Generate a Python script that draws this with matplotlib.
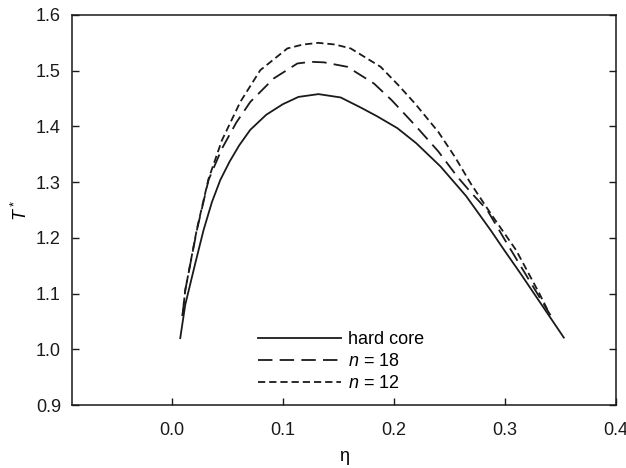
import matplotlib
matplotlib.use("Agg")
import matplotlib.pyplot as plt

plt.rcParams['font.family'] = ['Liberation Sans', 'DejaVu Sans']
plt.rcParams['mathtext.fontset'] = 'custom'
plt.rcParams['mathtext.it'] = 'Liberation Sans:italic'
plt.rcParams['mathtext.rm'] = 'Liberation Sans'

# hard core curve
eta_hc = [0.0075, 0.012, 0.021, 0.0285, 0.036, 0.0436, 0.052, 0.0606, 0.0706, 0.085, 0.100,
          0.114, 0.132, 0.152, 0.170, 0.185, 0.203, 0.220, 0.242, 0.265, 0.287, 0.300,
          0.314, 0.333, 0.353]
T_hc = [1.020, 1.080, 1.154, 1.214, 1.264, 1.304, 1.337, 1.366, 1.394, 1.421, 1.440,
        1.453, 1.458, 1.452, 1.434, 1.418, 1.397, 1.370, 1.328, 1.275, 1.214, 1.176,
        1.136, 1.080, 1.021]

# n = 18
eta_18 = [0.0095, 0.012, 0.0225, 0.033, 0.045, 0.058, 0.0706, 0.0916, 0.113, 0.125, 0.137,
          0.158, 0.182, 0.198, 0.220, 0.240, 0.257, 0.270, 0.284, 0.300, 0.320, 0.341]
T_18 = [1.060, 1.106, 1.214, 1.304, 1.360, 1.407, 1.444, 1.486, 1.513, 1.516, 1.515,
        1.507, 1.477, 1.447, 1.400, 1.355, 1.310, 1.280, 1.250, 1.196, 1.130, 1.061]

# n = 12
eta_12 = [0.0095, 0.012, 0.0225, 0.033, 0.045, 0.0616, 0.0796, 0.104, 0.118, 0.132, 0.147,
          0.161, 0.188, 0.204, 0.219, 0.240, 0.255, 0.269, 0.287, 0.310, 0.331, 0.339]
T_12 = [1.060, 1.106, 1.216, 1.306, 1.375, 1.444, 1.501, 1.540, 1.547, 1.550, 1.547,
        1.540, 1.507, 1.474, 1.441, 1.390, 1.345, 1.298, 1.244, 1.178, 1.100, 1.068]

fig = plt.figure(figsize=(6.26, 4.68), dpi=100)
ax = fig.add_axes([72 / 626, 63 / 468, 544 / 626, 390 / 468])

ax.plot(eta_hc, T_hc, color='#1a1a1a', lw=1.3, linestyle='-', label='hard core')
ax.plot(eta_18, T_18, color='#1a1a1a', lw=1.3, linestyle=(0, (8, 4)), label='$n$ = 18')
ax.plot(eta_12, T_12, color='#1a1a1a', lw=1.3, linestyle=(0, (4, 2.2)), label='$n$ = 12')

ax.set_xlim(-0.09, 0.4)
ax.set_ylim(0.9, 1.6)
ax.set_xticks([0.0, 0.1, 0.2, 0.3, 0.4])
ax.set_yticks([0.9, 1.0, 1.1, 1.2, 1.3, 1.4, 1.5, 1.6])
ax.xaxis.set_major_formatter(matplotlib.ticker.FormatStrFormatter('%.1f'))
ax.yaxis.set_major_formatter(matplotlib.ticker.FormatStrFormatter('%.1f'))
ax.tick_params(direction='in', length=5, width=1, labelsize=13, colors='#1a1a1a',
               right=True, top=False)
ax.tick_params(axis='x', pad=12)
ax.tick_params(axis='y', pad=8)
for s in ax.spines.values():
    s.set_linewidth(1.1)
    s.set_color('#1a1a1a')

ax.set_xlabel('η', fontsize=13, labelpad=7)
ax.set_ylabel('$T^*$', fontsize=13)
ax.yaxis.set_label_coords(-0.076, 0.5)

ax.legend(loc='upper left', bbox_to_anchor=((258 - 72) / 544, (405 - 331) / 390), frameon=False,
          fontsize=13, handlelength=4.6, handletextpad=0.4, labelspacing=0.28,
          borderpad=0, borderaxespad=0)

fig.savefig('out.png', dpi=100)
